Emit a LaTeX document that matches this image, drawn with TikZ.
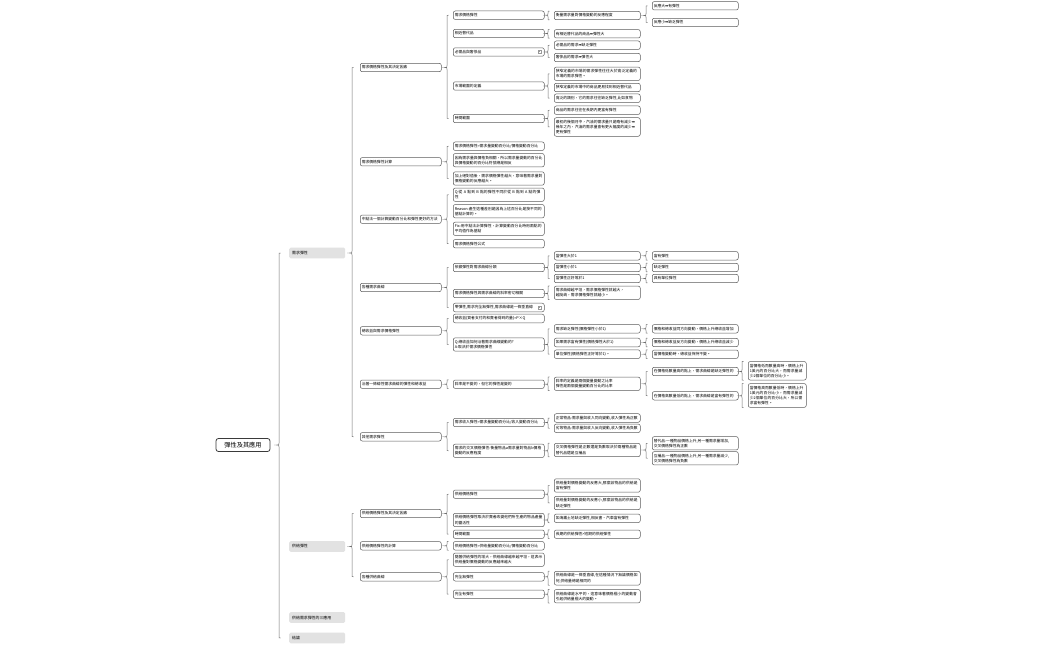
\documentclass[tikz,border=0pt]{standalone}
\usepackage{fontspec}
\setmainfont{Noto Sans CJK TC}
\newfontfamily\dv{DejaVu Sans}
\usetikzlibrary{calc}
\XeTeXlinebreaklocale "zh"
\XeTeXlinebreakskip=0pt plus 0.3pt
\definecolor{linec}{HTML}{5C5C5C}
\definecolor{bracec}{HTML}{707070}
\definecolor{rootc}{HTML}{3A3A3A}
\definecolor{lonefill}{HTML}{E2E2E2}
\definecolor{iconc}{HTML}{9A9A9A}
\newcommand\myarr{{\dv ➡}}
\tikzset{
  bx/.style={draw=linec, line width=0.5pt, rounded corners=2pt, fill=white, anchor=west,
    align=left, inner xsep=1.5pt, inner ysep=2.3pt, minimum height=8.4pt,
    font=\fontsize{3.8}{5.2}\selectfont},
  ltwo/.style={bx, text width=78pt},
  lthree/.style={bx, text width=88pt},
  lfour/.style={bx, text width=83pt},
  lfive/.style={bx, text width=83pt},
  lsix/.style={bx, text width=55pt},
  lone/.style={fill=lonefill, rounded corners=1.5pt, anchor=west, minimum height=10.7pt,
    text width=50pt, inner xsep=3pt, align=left, font=\fontsize{3.9}{5}\selectfont},
  rootbox/.style={draw=rootc, line width=0.8pt, rounded corners=2.5pt, fill=white,
    minimum width=54pt, minimum height=13pt, inner sep=1pt, font=\fontsize{6.2}{7}\selectfont},
  brc/.style={draw=bracec, line width=0.5pt},
  iconst/.style={draw=iconc, line width=0.3pt, fill=white},
}
\newcommand\mbr[4][6]{%
  \draw[brc] let \p1=(#2.east), \p2=(#3), \p3=(#4), \n1={\x2-#1pt} in
    (\n1+1.5pt,\y2) .. controls (\n1,\y2) .. (\n1,\y2-1.5pt)
    -- (\n1,\y1+1.8pt) .. controls (\n1,\y1) .. (\n1-2.5pt,\y1)
    .. controls (\n1,\y1) .. (\n1,\y1-1.8pt)
    -- (\n1,\y3+1.5pt) .. controls (\n1,\y3) .. (\n1+1.5pt,\y3);}
\newcommand\noteicon[1]{%
  \draw[iconst] ($(#1.east)+(-6,-1.5)$) rectangle ($(#1.east)+(-3.6,1.5)$);
  \draw[iconc, line width=0.2pt] ($(#1.east)+(-5.4,-0.4)$) -- ($(#1.east)+(-4.2,-0.4)$);}
\begin{document}
\begin{tikzpicture}[x=1pt,y=-1pt]
\useasboundingbox (0,0) rectangle (1050,650);
\fill[white] (0,0) rectangle (1050,650);

% root and level 1
\node[rootbox] (r) at (243,445) {彈性及其應用};
\node[lone] (a) at (289,253) {需求彈性};
\node[lone] (b) at (289,546.5) {供給彈性};
\node[lone] (c) at (289,617.5) {供給需求彈性的三應用};
\node[lone] (d) at (289,638) {結論};

% level 2
\node[ltwo] (a1) at (360,67.5) {需求價格彈性及其決定因素};
\node[ltwo] (a2) at (360,161.8) {需求價格彈性計算};
\node[ltwo] (a3) at (360,219.2) {中點法一個計算變動百分比和彈性更好的方法};
\node[ltwo] (a4) at (360,287.5) {各種需求曲線};
\node[ltwo] (a5) at (360,330.8) {總收益與需求價格彈性};
\node[ltwo] (a6) at (360,384.2) {沿著一條線性需求曲線的彈性和總收益};
\node[ltwo] (a7) at (360,436.8) {其他需求彈性};
\node[ltwo] (b1) at (360,513.5) {供給價格彈性及其決定因素};
\node[ltwo] (b2) at (360,545.8) {供給價格彈性的計算};
\node[ltwo] (b3) at (360,576.8) {各種供給曲線};

% level 3
\node[lthree] (a11) at (453,15.2) {需求價格彈性};
\node[lthree] (a12) at (453,33.5) {相近替代品};
\node[lthree] (a13) at (453,52) {必需品與奢侈品};
\node[lthree] (a14) at (453,86) {市場範圍的定義};
\node[lthree] (a15) at (453,118.5) {時間範圍};
\node[lthree] (a21) at (453,146.2) {需求價格彈性=需求量變動百分比/價格變動百分比};
\node[lthree] (a22) at (453,160.2) {因為需求量與價格負相關，所以需求量變動的百分比與價格變動的百分比符號總是相反};
\node[lthree] (a23) at (453,178.5) {加上絕對值後，需求價格彈性越大，意味著需求量對價格變動的反應越大。};
\node[lthree] (a31) at (453,194.7) {Q:從 A 點到 B 點的彈性不同於從 B 點到 A 點的彈性};
\node[lthree] (a32) at (453,211.2) {Reason:產生這種差別是因為上述百分比是按不同的基點計算的。};
\node[lthree] (a33) at (453,228.8) {Fix:用中點法計算彈性，計算變動百分比時用兩點的平均值作為基點};
\node[lthree] (a34) at (453,243.7) {需求價格彈性公式};
\node[lthree] (a41) at (453,267.5) {依據彈性對需求曲線分類};
\node[lthree] (a42) at (453,293.5) {需求價格彈性與需求曲線的斜率密切相關};
\node[lthree] (a43) at (453,307.5) {零彈性,需求完全無彈性,需求曲線是一條垂直線};
\node[lthree] (a51) at (453,318.5) {總收益(買者支付的和賣者得到的量)=P×Q};
\node[lthree] (a52) at (453,344.5) {Q:總收益如何沿著需求曲線變動的?\\A:取決於需求價格彈性};
\node[lthree] (a61) at (453,384.2) {斜率是不變的，但它的彈性是變的};
\node[lthree] (a71) at (453,422.5) {需求收入彈性=需求量變動百分比/收入變動百分比};
\node[lthree] (a72) at (453,450.8) {需求的交叉價格彈性:衡量物品a需求量對物品b價格變動的反應程度};
\node[lthree] (b11) at (453,494.2) {供給價格彈性};
\node[lthree] (b12) at (453,520) {供給價格彈性取決於賣者改變他們所生產的物品產量的靈活性};
\node[lthree] (b13) at (453,534.2) {時間範圍};
\node[lthree] (b21) at (453,545.8) {供給價格彈性=供給量變動百分比/價格變動百分比};
\node[lthree] (b31) at (453,559.7) {隨著供給彈性的增大，供給曲線越來越平坦，這表示供給量對價格變動的反應越來越大};
\node[lthree] (b32) at (453,576.8) {完全無彈性};
\node[lthree] (b33) at (453,594.2) {完全有彈性};
\noteicon{a13}
\noteicon{a43}

% level 4
\node[lfour] (a111) at (554,15.5) {衡量需求量對價格變動的反應程度};
\node[lfour] (a121) at (554,33.8) {有相近替代品的商品\myarr 彈性大};
\node[lfour] (a131) at (554,45.2) {必需品的需求\myarr 缺乏彈性};
\node[lfour] (a132) at (554,57.5) {奢侈品的需求\myarr 彈性大};
\node[lfour] (a141) at (554,73.8) {狹窄定義的市場的需求彈性往往大於寬泛定義的市場的需求彈性。};
\node[lfour] (a142) at (554,87.5) {狹窄定義的市場中的商品更易找到相近替代品};
\node[lfour] (a143) at (554,98.2) {寬泛的類別，它的需求往往缺乏彈性,比如食物};
\node[lfour] (a151) at (554,110.2) {商品的需求往往在長期內更富有彈性};
\node[lfour] (a152) at (554,127) {最初的幾個月中，汽油的需求量只是略有減少\myarr\\幾年之內，汽油的需求量會有更大幅度的減少\myarr\\更有彈性};
\node[lfour] (a411) at (554,255.8) {當彈性大於1};
\node[lfour] (a412) at (554,267.5) {當彈性小於1};
\node[lfour] (a413) at (554,278.5) {當彈性正好等於1};
\node[lfour] (a421) at (554,292.8) {需求曲線越平坦，需求價格彈性就越大，\\越陡峭，需求價格彈性就越小。};
\node[lfour] (a521) at (554,328.8) {需求缺乏彈性(價格彈性小於1)};
\node[lfour] (a522) at (554,342.5) {如果需求富有彈性(價格彈性大於1)};
\node[lfour] (a523) at (554,354.2) {單位彈性(價格彈性正好等於1)。};
\node[lfour] (a611) at (554,383.8) {斜率的定義是兩個變量變動之比率\\彈性是兩個變量變動百分比的比率};
\node[lfour] (a711) at (554,418) {正常物品:需求量與收入同向變動,收入彈性為正數};
\node[lfour] (a712) at (554,428.3) {劣等物品:需求量與收入反向變動,收入彈性為負數};
\node[lfour] (a721) at (554,450) {交叉價格彈性是正數還是負數取決於兩種物品是替代品還是互補品};
\node[lfour] (b111) at (554,485.5) {供給量對價格變動的反應大,那麼該物品的供給是富有彈性};
\node[lfour] (b112) at (554,503) {供給量對價格變動的反應小,那麼該物品的供給是缺乏彈性};
\node[lfour] (b121) at (554,518.3) {如海灘土地缺乏彈性,相反書、汽車富有彈性};
\node[lfour] (b131) at (554,534.2) {長期的供給彈性>短期的供給彈性};
\node[lfour] (b321) at (554,578.2) {供給曲線是一條垂直線,在這種情況下無論價格如何,供給量總是相同的};
\node[lfour] (b331) at (554,596.2) {供給曲線是水平的，這意味著價格極小的變動會引起供給量極大的變動。};

% level 5
\node[lfive] (a1111) at (652,5.8) {反應大\myarr 有彈性};
\node[lfive] (a1112) at (652,22.5) {反應小\myarr 缺乏彈性};
\node[lfive] (a4111) at (652,255.8) {富有彈性};
\node[lfive] (a4121) at (652,267.5) {缺乏彈性};
\node[lfive] (a4131) at (652,278.5) {具有單位彈性};
\node[lfive] (a5211) at (652,328.8) {價格和總收益同方向變動，價格上升總收益增加};
\node[lfive] (a5221) at (652,342.5) {價格和總收益反方向變動，價格上升總收益減少};
\node[lfive] (a5231) at (652,354.2) {當價格變動時，總收益保持不變。};
\node[lfive] (a6111) at (652,371.5) {在價格低數量高的點上，需求曲線是缺乏彈性的};
\node[lfive] (a6112) at (652,395.8) {在價格高數量低的點上，需求曲線是富有彈性的};
\node[lfive] (a7211) at (652,443.3) {替代品:一種物品價格上升,另一種需求量增加,\\交叉價格彈性為正數};
\node[lfive] (a7212) at (652,458.3) {互補品:一種物品價格上升,另一種需求量減少,\\交叉價格彈性為負數};

% level 6
\node[lsix] (a61111) at (748,370.8) {當價格低而數量高時，價格上升1美元的百分比大，而需求量減少2個單位的百分比小。};
\node[lsix] (a61121) at (748,395.5) {當價格高而數量低時，價格上升1美元的百分比小，而需求量減少2個單位的百分比大，所以需求富有彈性。};

% braces
\mbr[10]{r}{a.west}{d.west}
\mbr[8]{a}{a1.west}{a7.west}
\mbr[8]{b}{b1.west}{b3.west}
\mbr{a1}{a11.west}{a15.west}
\mbr{a2}{a21.west}{a23.west}
\mbr{a3}{a31.west}{a34.west}
\mbr{a4}{a41.west}{a43.west}
\mbr{a5}{a51.west}{a52.west}
\mbr{a6}{a61.north west}{a61.south west}
\mbr{a7}{a71.west}{a72.west}
\mbr{b1}{b11.west}{b13.west}
\mbr{b2}{b21.north west}{b21.south west}
\mbr{b3}{b31.west}{b33.west}
\mbr{a11}{a111.north west}{a111.south west}
\mbr{a12}{a121.north west}{a121.south west}
\mbr{a13}{a131.west}{a132.west}
\mbr{a14}{a141.west}{a143.west}
\mbr{a15}{a151.west}{a152.west}
\mbr{a41}{a411.west}{a413.west}
\mbr{a42}{a421.north west}{a421.south west}
\mbr{a52}{a521.west}{a523.west}
\mbr{a61}{a611.north west}{a611.south west}
\mbr{a71}{a711.west}{a712.west}
\mbr{a72}{a721.north west}{a721.south west}
\mbr{b11}{b111.west}{b112.west}
\mbr{b12}{b121.north west}{b121.south west}
\mbr{b13}{b131.north west}{b131.south west}
\mbr{b32}{b321.north west}{b321.south west}
\mbr{b33}{b331.north west}{b331.south west}
\mbr{a111}{a1111.west}{a1112.west}
\mbr{a411}{a4111.north west}{a4111.south west}
\mbr{a412}{a4121.north west}{a4121.south west}
\mbr{a413}{a4131.north west}{a4131.south west}
\mbr{a521}{a5211.north west}{a5211.south west}
\mbr{a522}{a5221.north west}{a5221.south west}
\mbr{a523}{a5231.north west}{a5231.south west}
\mbr{a611}{a6111.west}{a6112.west}
\mbr{a721}{a7211.west}{a7212.west}
\mbr{a6111}{a61111.north west}{a61111.south west}
\mbr{a6112}{a61121.north west}{a61121.south west}
\end{tikzpicture}
\end{document}
